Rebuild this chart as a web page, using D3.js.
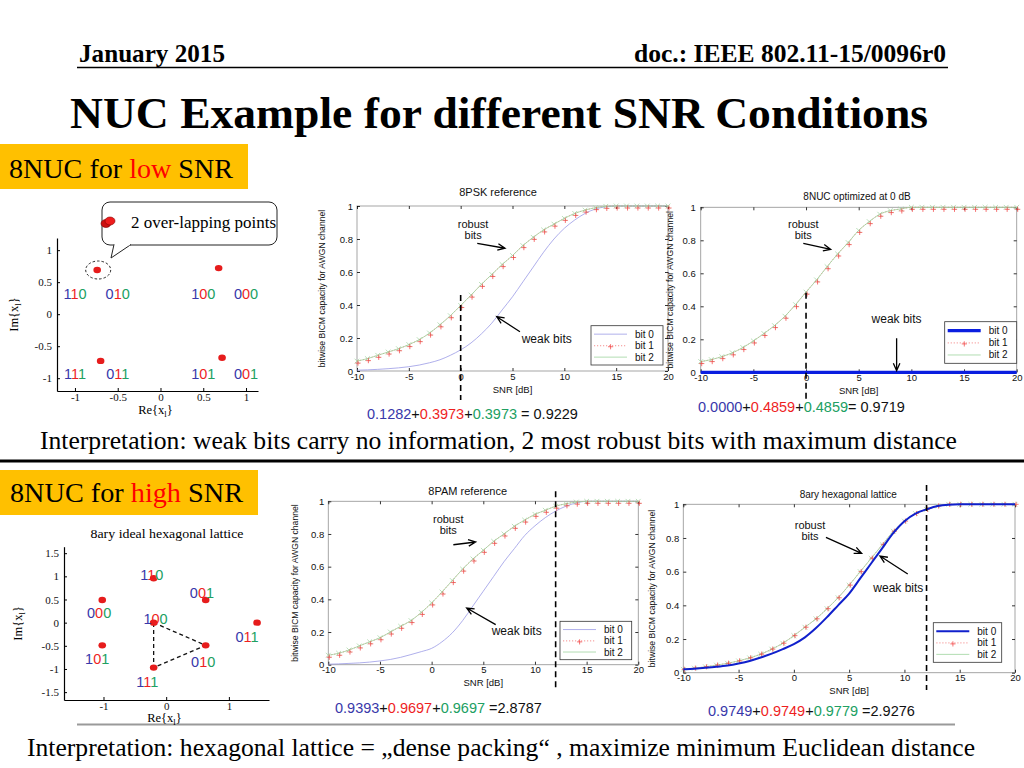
<!DOCTYPE html>
<html><head><meta charset="utf-8">
<script src="https://cdn.jsdelivr.net/npm/d3@7"></script>
<style>html,body{margin:0;padding:0;background:#fff;}svg{display:block;}</style>
</head><body>
<svg id="c" width="1024" height="768"></svg>
<script>
// ---------------- DATA ----------------
const headerLeft = "January 2015";
const headerRight = "doc.: IEEE 802.11-15/0096r0";
const slideTitle = "NUC Example for different SNR Conditions";
const interpLow = "Interpretation: weak bits carry no information, 2 most robust bits with maximum distance";
const interpHigh = "Interpretation: hexagonal lattice = \u201edense packing\u201c , maximize minimum Euclidean distance";

const snrDb = [-10,-9,-8,-7,-6,-5,-4,-3,-2,-1,0,1,2,3,4,5,6,7,8,9,10,11,12,13,14,15,16,17,18,19,20];
const snrTicks = [-10,-5,0,5,10,15,20];
const capTicks = [0,0.2,0.4,0.6,0.8,1];
const bitNames = ["bit 0","bit 1","bit 2"];

const psk8Weak   = [0.005,0.007,0.010,0.014,0.019,0.026,0.036,0.050,0.068,0.095,0.128,0.170,0.225,0.290,0.370,0.450,0.540,0.630,0.720,0.800,0.865,0.915,0.955,0.982,0.995,1,1,1,1,1,1];
const psk8Robust = [0.060,0.075,0.095,0.115,0.135,0.160,0.190,0.230,0.280,0.335,0.397,0.460,0.525,0.585,0.645,0.700,0.760,0.810,0.855,0.890,0.925,0.955,0.975,0.990,0.998,1,1,1,1,1,1];
const nuc8Weak   = [0,0,0,0,0,0,0,0,0,0,0,0,0,0,0,0,0,0,0,0,0,0,0,0,0,0,0,0,0,0,0];
const nuc8Robust = [0.065,0.077,0.095,0.118,0.150,0.190,0.235,0.283,0.340,0.410,0.486,0.560,0.640,0.717,0.786,0.860,0.913,0.958,0.980,0.990,1,1,1,1,1,1,1,1,1,1,1];
const pam8Weak   = [0.003,0.005,0.008,0.011,0.016,0.023,0.032,0.045,0.062,0.080,0.100,0.140,0.195,0.270,0.360,0.450,0.540,0.630,0.710,0.790,0.850,0.900,0.940,0.970,0.990,1,1,1,1,1,1];
const pam8Robust = [0.058,0.070,0.090,0.115,0.140,0.165,0.200,0.235,0.270,0.320,0.378,0.445,0.515,0.585,0.647,0.700,0.755,0.800,0.847,0.885,0.920,0.945,0.970,0.985,0.995,1,1,1,1,1,1];
const hexWeak    = [0.020,0.024,0.029,0.035,0.043,0.055,0.070,0.090,0.113,0.140,0.170,0.210,0.265,0.330,0.400,0.470,0.560,0.650,0.740,0.830,0.900,0.945,0.970,0.990,0.998,1,1,1,1,1,1];
const hexRobust  = [0.020,0.027,0.035,0.045,0.056,0.070,0.088,0.110,0.140,0.175,0.220,0.270,0.320,0.380,0.445,0.520,0.600,0.680,0.760,0.840,0.900,0.945,0.970,0.990,1,1,1,1,1,1,1];

const pskSum = ["0.1282","0.3973","0.3973","0.9229"];
const nucSum = ["0.0000","0.4859","0.4859","0.9719"];
const pamSum = ["0.9393","0.9697","0.9697","2.8787"];
const hexSum = ["0.9749","0.9749","0.9779","2.9276"];

// low-SNR 8NUC constellation
const lowRe = [-0.74, 0.68, -0.70, 0.72];
const lowIm = [0.69, 0.72, -0.73, -0.68];
const lowLabels = ["110","010","100","000","111","011","101","001"];
const lowLabelRe = [-1.0,-0.5,0.5,1.0,-1.0,-0.5,0.5,1.0];
const lowLabelIm = [0.32,0.32,0.32,0.32,-0.93,-0.93,-0.93,-0.93];
const lowXTicks = [-1,-0.5,0,0.5,1];
const lowYTicks = [-1,-0.5,0,0.5,1];

// hexagonal lattice constellation
const hexLabels = ["110","001","000","100","011","101","010","111"];
const hexRe = [-0.20,0.63,-1.02,-0.20,1.45,-1.02,0.63,-0.20];
const hexIm = [0.96,0.49,0.49,0.00,0.00,-0.49,-0.49,-0.97];
const hexLabelRe = [-0.23,0.57,-1.07,-0.17,1.29,-1.10,0.59,-0.30];
const hexLabelIm = [1.03,0.63,0.20,0.07,-0.31,-0.78,-0.86,-1.28];
const hexTriangle = [3,6,7];
const hexXTicks = [-1,0,1];
const hexYTicks = [-1.5,-1,-0.5,0,0.5,1,1.5];

// ---------------- DRAWING ----------------
const svg = d3.select("#c");
const SANS = "'Liberation Sans', Arial, Helvetica, sans-serif";
const SERIF = "'Liberation Serif', 'Times New Roman', Tinos, serif";
const BLUE = "#3838aa", RED = "#ee1f1f", GREEN = "#20a062";
const DIGIT = [BLUE, RED, GREEN];

function txt(x, y, s, o) {
  const t = svg.append("text").attr("x", x).attr("y", y).text(s)
    .attr("font-family", o.family || SERIF).attr("font-size", o.size)
    .attr("fill", o.fill || "#000");
  if (o.bold) t.attr("font-weight", "bold");
  if (o.anchor) t.attr("text-anchor", o.anchor);
  if (o.len) t.attr("textLength", o.len).attr("lengthAdjust", "spacingAndGlyphs");
  return t;
}

// header
txt(79, 61.5, headerLeft, {size: 25.5, bold: true, len: 146});
txt(946, 61.5, headerRight, {size: 25.5, bold: true, len: 312, anchor: "end"});
svg.append("line").attr("x1", 77).attr("x2", 948).attr("y1", 67.5).attr("y2", 67.5).attr("stroke", "#000").attr("stroke-width", 1.6);
txt(70, 127.5, slideTitle, {size: 45, bold: true, len: 858});

// orange section labels
function sectionBox(x, y, w, h, tx, ty, tlen, parts) {
  svg.append("rect").attr("x", x).attr("y", y).attr("width", w).attr("height", h).attr("fill", "#FFC000");
  const t = svg.append("text").attr("x", tx).attr("y", ty).attr("font-family", SERIF).attr("font-size", 27)
    .attr("textLength", tlen).attr("lengthAdjust", "spacingAndGlyphs");
  parts.forEach(p => t.append("tspan").attr("fill", p[1]).text(p[0]));
}
sectionBox(0, 144, 248, 45, 9, 177.5, 224, [["8NUC for ", "#000"], ["low", "#ff0000"], [" SNR", "#000"]]);
sectionBox(0, 470, 258, 45, 10, 502, 233, [["8NUC for ", "#000"], ["high", "#ff0000"], [" SNR", "#000"]]);

// interpretation lines
txt(40, 449, interpLow, {size: 25.4, len: 917});
svg.append("line").attr("x1", 0).attr("x2", 1024).attr("y1", 461).attr("y2", 461).attr("stroke", "#000").attr("stroke-width", 3);
svg.append("line").attr("x1", 77).attr("x2", 955).attr("y1", 724.5).attr("y2", 724.5).attr("stroke", "#9a9a9a").attr("stroke-width", 2);
txt(27, 756, interpHigh, {size: 25.5, len: 948});

function arrow(g, x1, y1, x2, y2) {
  const a = Math.atan2(y2 - y1, x2 - x1), L = 8, s = 0.42;
  g.append("path").attr("d",
    `M${x1},${y1}L${x2},${y2}M${x2 - L * Math.cos(a - s)},${y2 - L * Math.sin(a - s)}L${x2},${y2}L${x2 - L * Math.cos(a + s)},${y2 - L * Math.sin(a + s)}`)
    .attr("fill", "none").attr("stroke", "#000").attr("stroke-width", 1.3);
}

function digitLabel(g, x, y, s, size) {
  const t = g.append("text").attr("x", x).attr("y", y).attr("text-anchor", "middle")
    .attr("dominant-baseline", "central").attr("font-family", SANS).attr("font-size", size);
  s.split("").forEach((c, i) => t.append("tspan").attr("fill", DIGIT[i]).text(c));
}

function subLabel(g, x, y, rotate, size) {
  const t = g.append("text").attr("font-family", SERIF).attr("font-size", size).attr("text-anchor", "middle");
  if (rotate) t.attr("transform", `translate(${x},${y}) rotate(-90)`); else t.attr("x", x).attr("y", y);
  t.append("tspan").text(rotate ? "Im{x" : "Re{x");
  t.append("tspan").attr("font-size", size * 0.7).attr("dy", 3).text("l");
  t.append("tspan").attr("dy", -3).text("}");
}

// ---- BICM capacity plots ----
function bicmPlot(p) {
  const g = svg.append("g");
  const x = d3.scaleLinear().domain([snrTicks[0], snrTicks[snrTicks.length - 1]]).range([p.left, p.right]);
  const y = d3.scaleLinear().domain([capTicks[0], capTicks[capTicks.length - 1]]).range([p.bottom, p.top]);
  g.append("rect").attr("x", p.left).attr("y", p.top).attr("width", p.right - p.left).attr("height", p.bottom - p.top)
    .attr("fill", "#fff").attr("stroke", "#9c9c9c").attr("stroke-width", 0.9);
  const fmt = d => String(d);
  const styleAxis = sel => {
    sel.select(".domain").remove();
    sel.selectAll("line").attr("stroke", "#000").attr("stroke-width", 0.8);
    sel.selectAll("text").attr("font-family", SANS).attr("font-size", 9.5).attr("fill", "#111");
  };
  g.append("g").attr("transform", `translate(0,${p.bottom})`)
    .call(d3.axisBottom(x).tickValues(snrTicks).tickSizeInner(-3).tickSizeOuter(0).tickPadding(2).tickFormat(fmt)).call(styleAxis);
  g.append("g").attr("transform", `translate(0,${p.top})`)
    .call(d3.axisTop(x).tickValues(snrTicks).tickSizeInner(-3).tickSizeOuter(0).tickFormat("")).call(styleAxis);
  g.append("g").attr("transform", `translate(${p.left},0)`)
    .call(d3.axisLeft(y).tickValues(capTicks).tickSizeInner(-3).tickSizeOuter(0).tickPadding(p.yPad).tickFormat(fmt)).call(styleAxis);
  g.append("g").attr("transform", `translate(${p.right},0)`)
    .call(d3.axisRight(y).tickValues(capTicks).tickSizeInner(-3).tickSizeOuter(0).tickFormat("")).call(styleAxis);

  const line = vals => d3.line().x((d, i) => x(snrDb[i])).y(d => y(d)).curve(d3.curveMonotoneX)(vals);
  const drawWeak = () => g.append("path").attr("d", line(p.weak)).attr("fill", "none")
    .attr("stroke", p.weakColor).attr("stroke-width", p.weakWidth);
  if (!p.weakOnTop) drawWeak();
  g.append("path").attr("d", line(p.bit1)).attr("fill", "none").attr("stroke", "#f06060").attr("stroke-width", 0.7).attr("stroke-dasharray", "1.2,1.8");
  g.append("path").attr("d", line(p.bit2)).attr("fill", "none").attr("stroke", "#9ed49e").attr("stroke-width", 0.8);
  g.selectAll(null).data(p.bit2).join("path")
    .attr("d", (d, i) => { const cx = x(snrDb[i]), cy = y(d), r = 2.4; return `M${cx - r},${cy - r}L${cx + r},${cy + r}M${cx - r},${cy + r}L${cx + r},${cy - r}`; })
    .attr("stroke", "#a9d8a9").attr("stroke-width", 0.8).attr("fill", "none");
  g.selectAll(null).data(p.bit1).join("path")
    .attr("d", (d, i) => { const cx = x(snrDb[i]) + 1, cy = y(d) + p.redShift, r = 2.6; return `M${cx - r},${cy}L${cx + r},${cy}M${cx},${cy - r}L${cx},${cy + r}`; })
    .attr("stroke", "#f03a3a").attr("stroke-width", 0.7).attr("fill", "none");
  if (p.weakOnTop) drawWeak();

  g.append("line").attr("x1", x(p.threshold)).attr("x2", x(p.threshold))
    .attr("y1", p.dashTop).attr("y2", p.dashBottom)
    .attr("stroke", "#000").attr("stroke-width", 1.6).attr("stroke-dasharray", "6,4");

  txt(p.titleX, p.top - p.titleGap, p.title, {family: SANS, size: p.titleSize, anchor: "middle", fill: "#111"});
  txt((p.left + p.right) / 2, p.bottom + 21.5, "SNR [dB]", {family: SANS, size: 9.5, anchor: "middle", fill: "#111"});
  g.append("text").attr("transform", `translate(${p.ylabelX},${(p.top + p.bottom) / 2}) rotate(-90)`)
    .attr("text-anchor", "middle").attr("font-family", SANS).attr("font-size", 8.6).attr("fill", "#111")
    .text("bitwise BICM capacity for AWGN channel");

  p.notes.forEach(n => {
    n.lines.forEach((s, k) => txt(x(n.at[0]), y(n.at[1]) + k * 10.8, s, {family: SANS, size: n.size, anchor: "middle", fill: "#111"}));
    arrow(g, x(n.from[0]), y(n.from[1]), x(n.to[0]), y(n.to[1]));
  });

  const L = p.legend, lx = p.right - L.inset[0] - L.w, ly = p.bottom - L.inset[1] - L.h;
  g.append("rect").attr("x", lx).attr("y", ly).attr("width", L.w).attr("height", L.h)
    .attr("fill", "#fff").attr("stroke", "#333").attr("stroke-width", 0.8);
  const rows = [0.215, 0.51, 0.8];
  const styles = [
    {c: p.weakColor, w: p.weakWidth, dash: null},
    {c: "#f06060", w: 0.7, dash: "1.2,1.8"},
    {c: "#9ed49e", w: 0.8, dash: null}];
  bitNames.forEach((nm, i) => {
    const ry = ly + L.h * rows[i];
    const ln = g.append("line").attr("x1", lx + 3).attr("x2", lx + 36).attr("y1", ry).attr("y2", ry)
      .attr("stroke", styles[i].c).attr("stroke-width", styles[i].w);
    if (styles[i].dash) ln.attr("stroke-dasharray", styles[i].dash);
    if (i === 1) g.append("path").attr("d", `M${lx + 17},${ry + 1}h5.2M${lx + 19.6},${ry - 1.6}v5.2`).attr("stroke", "#f03a3a").attr("stroke-width", 0.7);
    txt(lx + 44, ry + 3.5, nm, {family: SANS, size: 10, fill: "#111"});
  });

  const st = svg.append("text").attr("x", p.sumX).attr("y", p.sumY).attr("font-family", SANS).attr("font-size", 14.5);
  p.sum.forEach((v, i) => {
    st.append("tspan").attr("fill", i < 3 ? DIGIT[i] : "#111").text(v);
    if (i < 3) st.append("tspan").attr("fill", "#111").text(p.seps[i]);
  });
}

bicmPlot({
  left: 357, right: 668, top: 206, bottom: 371, yPad: 4,
  title: "8PSK reference", titleX: 498, titleGap: 10, titleSize: 11, ylabelX: 325,
  weak: psk8Weak, bit1: psk8Robust, bit2: psk8Robust, weakColor: "#9a9ae6", weakWidth: 0.8, weakOnTop: false, redShift: 2,
  threshold: 0, dashTop: 295, dashBottom: 400,
  notes: [
    {lines: ["robust", "bits"], at: [1.2, 0.868], size: 11, from: [1.6, 0.774], to: [4.28, 0.744]},
    {lines: ["weak bits"], at: [8.3, 0.168], size: 12, from: [5.72, 0.238], to: [3.48, 0.329]}],
  legend: {w: 72, h: 39.3, inset: [5, 6]},
  sum: pskSum, seps: ["+", "+", " = "], sumX: 367, sumY: 419
});
bicmPlot({
  left: 700.7, right: 1016.7, top: 207.3, bottom: 372.3, yPad: 5,
  title: "8NUC optimized at 0 dB", titleX: 857, titleGap: 7, titleSize: 10, ylabelX: 673,
  weak: nuc8Weak, bit1: nuc8Robust, bit2: nuc8Robust, weakColor: "#0a1ee0", weakWidth: 3.2, weakOnTop: true, redShift: 2,
  threshold: 0, dashTop: 292.7, dashBottom: 401.7,
  notes: [
    {lines: ["robust", "bits"], at: [-0.26, 0.873], size: 11, from: [-0.26, 0.782], to: [2.34, 0.745]},
    {lines: ["weak bits"], at: [8.6, 0.297], size: 12, from: [8.6, 0.206], to: [8.6, 0.01]}],
  legend: {w: 72, h: 41.6, inset: [0, 9]},
  sum: nucSum, seps: ["+", "+", "= "], sumX: 698, sumY: 412
});
bicmPlot({
  left: 328.3, right: 638.3, top: 501.3, bottom: 664.7, yPad: 4,
  title: "8PAM reference", titleX: 467.7, titleGap: 6, titleSize: 11, ylabelX: 298,
  weak: pam8Weak, bit1: pam8Robust, bit2: pam8Robust, weakColor: "#9a9ae6", weakWidth: 0.8, weakOnTop: false, redShift: 2,
  threshold: 12, dashTop: 491.3, dashBottom: 691.3,
  notes: [
    {lines: ["robust", "bits"], at: [1.61, 0.867], size: 11, from: [2.1, 0.734], to: [4.26, 0.751]},
    {lines: ["weak bits"], at: [8.23, 0.184], size: 12, from: [6.2, 0.245], to: [3.39, 0.347]}],
  legend: {w: 71.7, h: 38.4, inset: [6.6, 5]},
  sum: pamSum, seps: ["+", "+", " ="], sumX: 335, sumY: 713
});
bicmPlot({
  left: 683.3, right: 1015, top: 504.3, bottom: 672.7, yPad: 4,
  title: "8ary hexagonal lattice", titleX: 848.3, titleGap: 6, titleSize: 10, ylabelX: 655,
  weak: hexWeak, bit1: hexRobust, bit2: hexRobust, weakColor: "#1020cc", weakWidth: 2, weakOnTop: true, redShift: 0,
  threshold: 12, dashTop: 485, dashBottom: 690,
  notes: [
    {lines: ["robust", "bits"], at: [1.46, 0.852], size: 11, from: [2.9, 0.804], to: [6.13, 0.709]},
    {lines: ["weak bits"], at: [9.45, 0.481], size: 12, from: [10.3, 0.586], to: [7.79, 0.693]}],
  legend: {w: 68.4, h: 39.6, inset: [13.3, 10.4]},
  sum: hexSum, seps: ["+", "+", " ="], sumX: 708, sumY: 716
});

// ---- constellation diagrams ----
function constellation(c) {
  const g = svg.append("g");
  const x = d3.scaleLinear().domain(c.xDomain).range([c.left, c.right]);
  const y = d3.scaleLinear().domain(c.yDomain).range([c.bottom, c.top]);
  const styleAxis = sel => {
    sel.select(".domain").attr("stroke", "#000").attr("stroke-width", 1.2);
    sel.selectAll("line").attr("stroke", "#000");
    sel.selectAll("text").attr("font-family", SERIF).attr("font-size", 11).attr("fill", "#111");
  };
  g.append("g").attr("transform", `translate(0,${c.bottom})`)
    .call(d3.axisBottom(x).tickValues(c.xTicks).tickSizeInner(-3).tickSizeOuter(0).tickPadding(c.xPad).tickFormat(d => String(d))).call(styleAxis);
  g.append("g").attr("transform", `translate(${c.left},0)`)
    .call(d3.axisLeft(y).tickValues(c.yTicks).tickSizeInner(-3).tickSizeOuter(0).tickPadding(5).tickFormat(d => String(d))).call(styleAxis);
  if (c.triangle) {
    const pts = c.triangle.map(i => [x(c.re[i]), y(c.im[i])]);
    g.append("path").attr("d", "M" + pts.map(q => q.join(",")).join("L") + "Z")
      .attr("fill", "none").attr("stroke", "#111").attr("stroke-width", 1.3).attr("stroke-dasharray", "4,3");
  }
  g.selectAll(null).data(c.re).join("ellipse")
    .attr("cx", d => x(d)).attr("cy", (d, i) => y(c.im[i])).attr("rx", 3.8).attr("ry", 3.2).attr("fill", "#e61c1c");
  c.labels.forEach((s, i) => digitLabel(g, x(c.labelRe[i]), y(c.labelIm[i]), s, 14.5));
  subLabel(g, c.ylabX, (c.top + c.bottom) / 2, true, 12.5);
  subLabel(g, (c.left + c.right) / 2 - 2, c.xlabY, false, 12.5);
  return {x, y, g};
}

const low = constellation({
  left: 57, right: 258, top: 238, bottom: 391, xDomain: [-1.21, 1.14], yDomain: [-1.2, 1.19],
  xTicks: lowXTicks, yTicks: lowYTicks, xPad: 2,
  re: lowRe, im: lowIm, labels: lowLabels, labelRe: lowLabelRe, labelIm: lowLabelIm,
  ylabX: 18, xlabY: 414
});
low.g.append("ellipse").attr("cx", low.x(lowRe[0]) + 1).attr("cy", low.y(lowIm[0])).attr("rx", 12.5).attr("ry", 9)
  .attr("fill", "none").attr("stroke", "#111").attr("stroke-width", 0.9).attr("stroke-dasharray", "2.5,2");
// callout
svg.append("rect").attr("x", 102).attr("y", 202).attr("width", 175).attr("height", 43).attr("rx", 8)
  .attr("fill", "#fff").attr("stroke", "#222").attr("stroke-width", 1);
svg.append("path").attr("d", "M114,244.5L111,258L131,244.5").attr("fill", "#fff").attr("stroke", "#222").attr("stroke-width", 1);
svg.append("line").attr("x1", 114.8).attr("x2", 130).attr("y1", 244.6).attr("y2", 244.6).attr("stroke", "#fff").attr("stroke-width", 1.4);
svg.append("ellipse").attr("cx", 106).attr("cy", 223.5).attr("rx", 5).attr("ry", 4).attr("fill", "#cc1010").attr("stroke", "#700").attr("stroke-width", 0.6);
svg.append("ellipse").attr("cx", 110).attr("cy", 221).attr("rx", 5).attr("ry", 4).attr("fill", "#ee1c1c").attr("stroke", "#800").attr("stroke-width", 0.6);
txt(131, 228, "2 over-lapping points", {size: 17, len: 145});

constellation({
  left: 64, right: 269, top: 546.7, bottom: 700, xDomain: [-1.63, 1.64], yDomain: [-1.67, 1.64],
  xTicks: hexXTicks, yTicks: hexYTicks, xPad: 2, triangle: hexTriangle,
  re: hexRe, im: hexIm, labels: hexLabels, labelRe: hexLabelRe, labelIm: hexLabelIm,
  ylabX: 22, xlabY: 722
});
txt(167, 538, "8ary ideal hexagonal lattice", {size: 12.5, anchor: "middle", len: 153});
</script>
</body></html>
